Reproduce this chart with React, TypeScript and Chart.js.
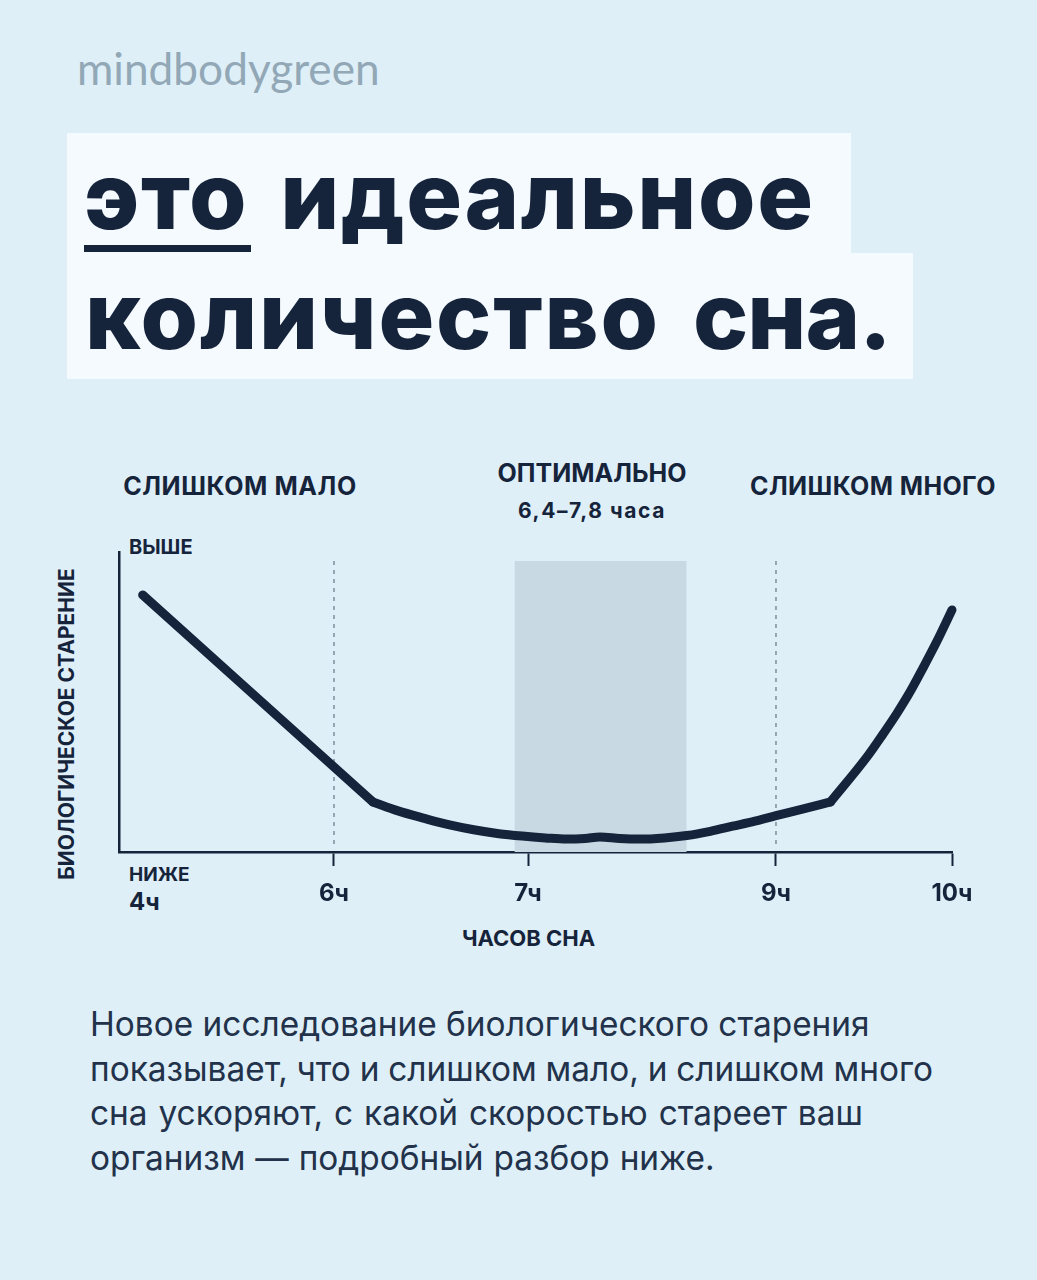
import { useEffect, useRef } from 'react';
import { Chart, LinearScale, registerables } from 'chart.js';

// hours on the axis are not evenly spaced in the picture
const tickHours = [4, 6, 7, 9, 10];
const tickFractions = [0, 0.2581, 0.491, 0.7887, 1];
const tickLabels = ['', '6ч', '7ч', '9ч', '10ч'];

// the curve has two hard knees, so it is kept as three runs
const shortHours = [4.22, 6.2];
const shortAging = [85.7, 16.7];
const midHours = [6.2, 6.33, 6.46, 6.59, 6.72, 6.85, 6.97, 7.14, 7.31, 7.46, 7.58, 7.74, 7.9, 8.1, 8.28, 8.47, 8.65, 8.83, 9, 9.15, 9.31];
const midAging = [16.7, 13.7, 11.3, 9.1, 7.4, 6.1, 5.3, 4.7, 4.3, 4.5, 5, 4.5, 4.3, 4.7, 5.5, 6.9, 8.6, 10.3, 12.1, 14.3, 16.7];
const longHours = [9.31, 9.517, 9.608, 9.688, 9.761, 9.835, 9.915, 10];
const longAging = [16.7, 31.7, 39.3, 46.3, 53.3, 61.3, 70.3, 80.7];

const bandHours = [6.93, 8.28];
const bandTop = 97;
const guideHours = [6, 9];
const guideRange = [97, 2];

const INK = '#16243b';
const FONT = 'Inter, sans-serif';

const bodyLines = [
  'Новое исследование биологического старения',
  'показывает, что и слишком мало, и слишком много',
  'сна ускоряют, с какой скоростью стареет ваш',
  'организм — подробный разбор ниже.',
];
const bodyWordSpacing = [0, -0.6, 1.5, 0.5];

class PiecewiseScale extends LinearScale {
  static id = 'piecewise';
  static defaults = LinearScale.defaults;

  getPixelForValue(value: number) {
    let i = 0;
    while (i < tickHours.length - 2 && value > tickHours[i + 1]) i++;
    const t = (value - tickHours[i]) / (tickHours[i + 1] - tickHours[i]);
    return this.getPixelForDecimal(tickFractions[i] + t * (tickFractions[i + 1] - tickFractions[i]));
  }
}

Chart.register(...registerables, PiecewiseScale);

const toPoints = (xs: number[], ys: number[]) => xs.map((x, i) => ({ x, y: ys[i] }));

const curveRun = (xs: number[], ys: number[]) => ({
  data: toPoints(xs, ys),
  borderColor: INK,
  borderWidth: 9,
  borderCapStyle: 'round',
  borderJoinStyle: 'round',
  cubicInterpolationMode: 'monotone',
  pointRadius: 0,
  clip: false,
});

function Text({ x, y, size, weight = 700, color = INK, anchor = 'left', children, spacing = 0, wordSpacing = 0 }: any) {
  return (
    <div
      style={{
        position: 'absolute',
        left: x,
        top: y,
        fontFamily: FONT,
        fontSize: size,
        fontWeight: weight,
        color,
        letterSpacing: spacing,
        wordSpacing,
        lineHeight: 1,
        whiteSpace: 'nowrap',
        transform: anchor === 'center' ? 'translate(-50%, -50%)' : 'translateY(-50%)',
      }}
    >
      {children}
    </div>
  );
}

export default function App() {
  const canvasRef = useRef<HTMLCanvasElement | null>(null);

  useEffect(() => {
    if (!canvasRef.current) return;
    const chart = new Chart(canvasRef.current, {
      type: 'line',
      data: {
        datasets: [
          curveRun(shortHours, shortAging),
          curveRun(midHours, midAging),
          curveRun(longHours, longAging),
          ...guideHours.map((h) => ({
            data: toPoints([h, h], guideRange),
            borderColor: '#7d8e9c',
            borderWidth: 1.5,
            borderDash: [4, 5],
            pointRadius: 0,
          })),
          {
            data: toPoints(bandHours, [bandTop, bandTop]),
            borderWidth: 0,
            pointRadius: 0,
            backgroundColor: '#c8d9e4',
            fill: 'origin',
          },
        ],
      } as any,
      options: {
        animation: false,
        responsive: false,
        layout: { padding: { top: 12, right: 85, left: 0, bottom: 0 } },
        plugins: { legend: { display: false }, tooltip: { enabled: false } },
        scales: {
          x: {
            type: 'piecewise' as any,
            min: 4,
            max: 10,
            afterBuildTicks: (scale: any) => {
              scale.ticks = tickHours.map((value) => ({ value }));
            },
            afterFit: (scale: any) => {
              scale.height = 58;
            },
            border: { color: INK, width: 2.5 },
            grid: {
              drawOnChartArea: false,
              tickLength: 14,
              tickWidth: 2,
              tickColor: (ctx: any) => (ctx.index === 0 ? 'transparent' : INK),
            },
            ticks: {
              autoSkip: false,
              maxRotation: 0,
              padding: 13,
              color: INK,
              font: { family: FONT, size: 24, weight: 700 },
              callback: (_v: any, i: number) => tickLabels[i],
            },
          },
          y: {
            min: 0,
            max: 100,
            afterFit: (scale: any) => {
              scale.width = 119;
            },
            border: { color: INK, width: 2.5 },
            grid: { display: false },
            ticks: { display: false },
          },
        },
      },
    });
    return () => chart.destroy();
  }, []);

  return (
    <div
      style={{
        position: 'absolute',
        left: 0,
        top: 0,
        width: 1037,
        height: 1280,
        overflow: 'hidden',
        background: '#deeff8',
      }}
    >
      <div style={{ position: 'absolute', left: 77, top: 46, fontFamily: 'Lato, sans-serif', fontSize: 44.2, fontWeight: 400, color: '#92a8b6', lineHeight: 1 }}>
        mindbodygreen
      </div>

      <div style={{ position: 'absolute', left: 67, top: 133, width: 784, height: 120, background: '#f5fafe' }} />
      <div style={{ position: 'absolute', left: 67, top: 253, width: 846, height: 126, background: '#f5fafe' }} />
      <div style={{ position: 'absolute', left: 84, top: 245, width: 167, height: 7, background: INK }} />
      <Text x={84} y={195} size={93} weight={800} spacing={1.6} wordSpacing={10}>это идеальное</Text>
      <Text x={85} y={315} size={93} weight={800} spacing={1.8} wordSpacing={11}>
        количество <span style={{ letterSpacing: -1 }}>сна.</span>
      </Text>

      <Text x={240} y={486} size={25} spacing={0.6} anchor="center">СЛИШКОМ МАЛО</Text>
      <Text x={592} y={473} size={25} anchor="center">ОПТИМАЛЬНО</Text>
      <Text x={592} y={510} size={21} spacing={1.6} anchor="center">6,4–7,8 часа</Text>
      <Text x={873} y={486} size={25} spacing={0.4} anchor="center">СЛИШКОМ МНОГО</Text>

      <Text x={129} y={547} size={20}>ВЫШЕ</Text>
      <Text x={129} y={874} size={19}>НИЖЕ</Text>
      <Text x={129} y={902} size={24}>4ч</Text>
      <Text x={528.5} y={938} size={22} anchor="center">ЧАСОВ СНА</Text>
      <div
        style={{
          position: 'absolute',
          left: 66,
          top: 724,
          fontFamily: FONT,
          fontSize: 21,
          fontWeight: 700,
          color: INK,
          lineHeight: 1,
          whiteSpace: 'nowrap',
          transform: 'translate(-50%, -50%) rotate(-90deg)',
        }}
      >
        БИОЛОГИЧЕСКОЕ СТАРЕНИЕ
      </div>

      <canvas ref={canvasRef} width={1037} height={370} style={{ position: 'absolute', left: 0, top: 540, width: 1037, height: 370 }} />

      {bodyLines.map((line, i) => (
        <Text key={line} x={90} y={1025 + i * 44.7} size={33.4} weight={400} color="#22324a" wordSpacing={bodyWordSpacing[i]}>
          {line}
        </Text>
      ))}
    </div>
  );
}
